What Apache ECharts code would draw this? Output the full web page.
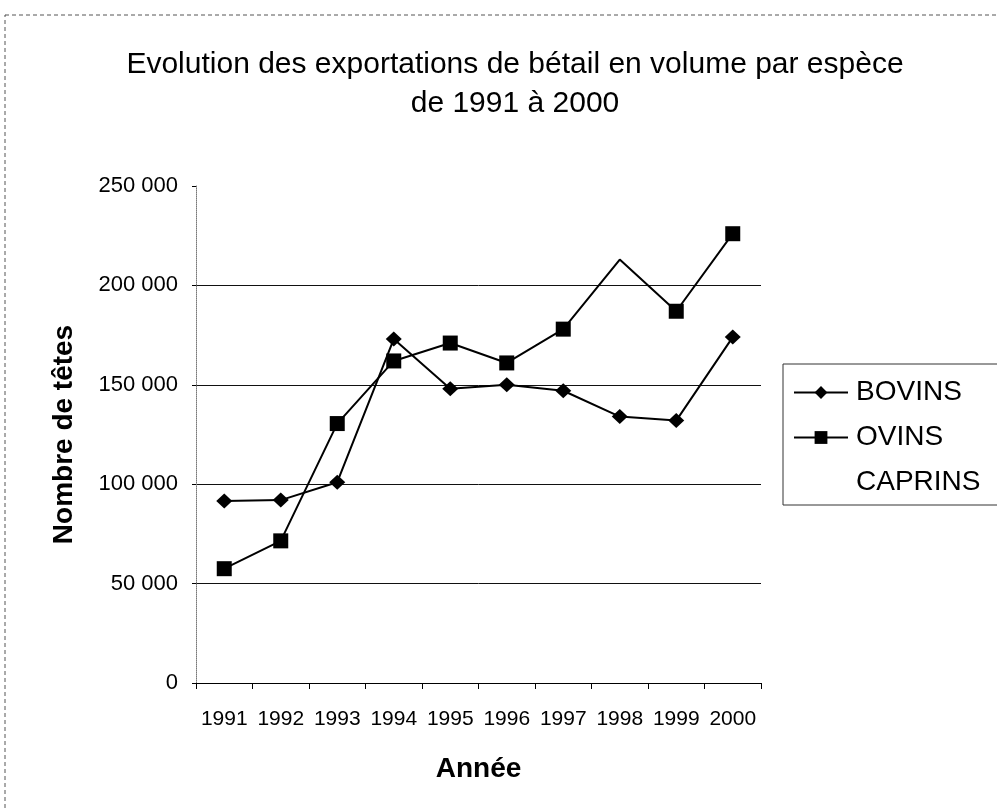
<!DOCTYPE html>
<html lang="fr">
<head>
    <meta charset="UTF-8">
    <title>Exportations de bétail</title>
    <style>
        body{
            margin: 0;
            background-color: #ffffff;
        }
        #chart{
            width: 997px;
            height: 808px;
        }
    </style>
</head>
<body>
<div id="chart"></div>
<script src="https://cdn.jsdelivr.net/npm/echarts@6/dist/echarts.min.js"></script>
<script>
    var years = ['1991','1992','1993','1994','1995','1996','1997','1998','1999','2000'];
    var bovins = [91500, 92000, 101000, 173000, 148000, 150000, 147000, 134000, 132000, 174000];
    var ovinsCaprins = [57500, 71500, 130500, 162000, 171000, 161000, 178000, 213000, 187000, 226000];
    var yTicks = [0, 50000, 100000, 150000, 200000, 250000];

    var font = 'Liberation Sans, Arial, sans-serif';

    function spaced(v) {
        return String(v).replace(/\B(?=(\d{3})+(?!\d))/g, ' ');
    }

    // the scan lost the square at 1998, so hide that one symbol
    var ovinsData = ovinsCaprins.map(function (v, i) {
        return i === 7 ? {value: v, symbol: 'none'} : v;
    });

    var chart = echarts.init(document.getElementById('chart'));
    var option = {
        backgroundColor: '#ffffff',
        animation: false,
        title: {
            text: 'Evolution des exportations de bétail en volume par espèce\nde 1991 à 2000',
            left: 510,
            top: 40,
            textAlign: 'center',
            textStyle: {
                fontFamily: font,
                fontSize: 30,
                fontWeight: 'normal',
                color: '#000',
                lineHeight: 39
            }
        },
        graphic: [{
            type: 'rect',
            shape: {x: 5, y: 15, width: 1000, height: 800},
            style: {fill: 'none', stroke: '#555', lineWidth: 1, lineDash: [4, 3]},
            silent: true
        }],
        legend: {
            orient: 'vertical',
            left: 783,
            top: 364,
            padding: [6, 60, 0, 10],
            itemWidth: 54,
            itemHeight: 16,
            itemGap: -45,
            borderColor: '#333',
            borderWidth: 1,
            data: ['BOVINS', 'OVINS CAPRINS'],
            // an empty first line keeps the icon level with "OVINS"
            formatter: function (name) {
                return name === 'OVINS CAPRINS' ? '\u00a0\nOVINS\nCAPRINS' : name;
            },
            textStyle: {
                fontFamily: font,
                fontSize: 28,
                color: '#000',
                lineHeight: 45,
                padding: [0, 0, 0, 3]
            }
        },
        grid: {
            left: 196,
            right: 236,
            top: 186,
            bottom: 125
        },
        xAxis: {
            type: 'category',
            data: years,
            boundaryGap: true,
            name: 'Année',
            nameLocation: 'middle',
            nameGap: 72,
            nameTextStyle: {
                fontFamily: font,
                fontSize: 28,
                fontWeight: 'bold',
                color: '#000'
            },
            axisLine: {lineStyle: {color: '#000', width: 1}},
            axisTick: {show: true, length: 6, lineStyle: {color: '#000'}},
            axisLabel: {
                fontFamily: font,
                fontSize: 21,
                color: '#000',
                margin: 26,
                interval: 0
            }
        },
        yAxis: {
            type: 'value',
            min: yTicks[0],
            max: yTicks[yTicks.length - 1],
            interval: 50000,
            name: 'Nombre de têtes',
            nameLocation: 'middle',
            nameGap: 118,
            nameTextStyle: {
                fontFamily: font,
                fontSize: 28,
                fontWeight: 'bold',
                color: '#000'
            },
            axisLine: {show: true, lineStyle: {color: '#777', width: 1, type: 'dotted'}},
            axisTick: {show: true, length: 4, lineStyle: {color: '#000'}},
            axisLabel: {
                fontFamily: font,
                fontSize: 22,
                color: '#000',
                margin: 18,
                formatter: spaced
            },
            splitLine: {
                show: true,
                lineStyle: {
                    color: ['#000', '#111', '#111', '#111', '#111', 'rgba(0,0,0,0)'],
                    width: 1
                }
            }
        },
        series: [
            {
                name: 'BOVINS',
                type: 'line',
                data: bovins,
                symbol: 'diamond',
                symbolSize: [16, 15],
                lineStyle: {color: '#000', width: 2},
                itemStyle: {color: '#000'}
            },
            {
                name: 'OVINS CAPRINS',
                type: 'line',
                data: ovinsData,
                symbol: 'rect',
                symbolSize: 15,
                lineStyle: {color: '#000', width: 2},
                itemStyle: {color: '#000'}
            }
        ]
    };
    chart.setOption(option);
</script>
</body>
</html>
